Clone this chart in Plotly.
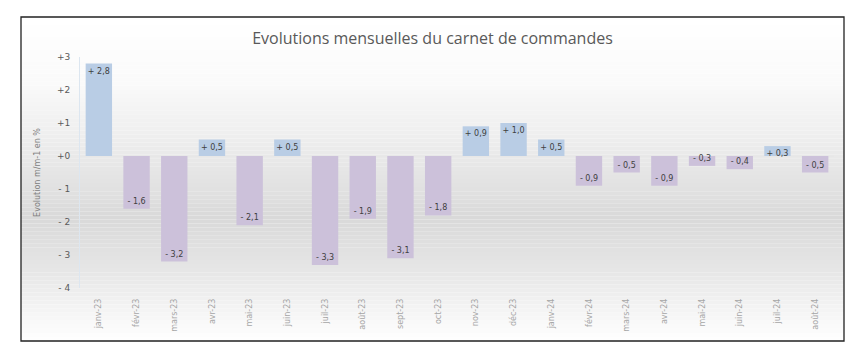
import plotly.graph_objects as go

months = ["janv-23", "févr-23", "mars-23", "avr-23", "mai-23", "juin-23", "juil-23",
          "août-23", "sept-23", "oct-23", "nov-23", "déc-23", "janv-24", "févr-24",
          "mars-24", "avr-24", "mai-24", "juin-24", "juil-24", "août-24"]
values = [2.8, -1.6, -3.2, 0.5, -2.1, 0.5, -3.3, -1.9, -3.1, -1.8,
          0.9, 1.0, 0.5, -0.9, -0.5, -0.9, -0.3, -0.4, 0.3, -0.5]
ytick_vals = [3, 2, 1, 0, -1, -2, -3, -4]
ytick_text = ["+3", "+2", "+1", "+0", "- 1", "- 2", "- 3", "- 4"]

OFF = 8  # page body margin
W, H = 865 - OFF, 358 - OFF
# plot area in page pixels: x 80..834, y 57..288
L, R, T, B = 80 - OFF, 865 - 834, 57 - OFF, 358 - 288
pw, ph = W - L - R, H - T - B


def px2x(px):
    return (px - OFF - L) / pw


def py2y(py):
    return (H - B - (py - OFF)) / ph


def fmt(v):
    s = f"{abs(v):.1f}".replace(".", ",")
    return ("+ " if v >= 0 else "- ") + s


pos_col, neg_col = "#b9cde5", "#ccc1da"
colors = [pos_col if v >= 0 else neg_col for v in values]
labels = [fmt(v) for v in values]

fig = go.Figure(go.Bar(
    x=months, y=values, marker=dict(color=colors, line=dict(width=0)),
    text=labels, textposition="inside", insidetextanchor="end",
    constraintext="none", textangle=0,
    textfont=dict(size=8, color="#404040", family="DejaVu Sans"),
    width=0.7, cliponaxis=False,
))

# background gradient (frame)
fx0, fx1, fy0, fy1 = 21, 844, 17, 341
stops = [(0.0, 255), (0.2, 250), (0.45, 232), (0.62, 217), (0.8, 232), (1.0, 255)]


def gray_at(t):
    for (t0, g0), (t1, g1) in zip(stops, stops[1:]):
        if t0 <= t <= t1:
            return g0 + (g1 - g0) * (t - t0) / (t1 - t0)
    return 255


shapes = []
n = 80
for i in range(n):
    a = fy0 + (fy1 - fy0) * i / n
    b = fy0 + (fy1 - fy0) * (i + 1) / n
    g = int(round(gray_at((i + 0.5) / n)))
    shapes.append(dict(type="rect", xref="paper", yref="paper",
                       x0=px2x(fx0), x1=px2x(fx1), y0=py2y(b), y1=py2y(a),
                       fillcolor=f"rgb({g},{g},{g})", line=dict(width=0), layer="below"))
shapes.append(dict(type="rect", xref="paper", yref="paper",
                   x0=px2x(fx0), x1=px2x(fx1), y0=py2y(fy1), y1=py2y(fy0),
                   fillcolor="rgba(0,0,0,0)", line=dict(width=1.3, color="#222222"), layer="above"))
# zero line
shapes.append(dict(type="line", xref="paper", yref="y", x0=0, x1=1, y0=0, y1=0,
                   line=dict(width=1, color="#e6e6e6"), layer="below"))

fig.update_layout(
    width=W, height=H, margin=dict(l=L, r=R, t=T, b=B),
    paper_bgcolor="white", plot_bgcolor="rgba(0,0,0,0)",
    shapes=shapes, showlegend=False, bargap=0.3,
    title=dict(text="Evolutions mensuelles du carnet de commandes",
               x=(432.5 - OFF) / W, xanchor="center", y=1 - (38 - OFF) / H, yanchor="middle",
               font=dict(family="Open Sans", size=16, color="#595959")),
    font=dict(family="DejaVu Sans"),
)
fig.update_xaxes(tickangle=-90, tickfont=dict(size=8, color="#a6a6a6"),
                 showgrid=False, showline=False, ticks="", ticklabelstandoff=8)
fig.update_yaxes(range=[-4, 3], tickvals=ytick_vals, ticktext=ytick_text,
                 tickfont=dict(size=9, color="#595959"), showgrid=False,
                 zeroline=False, showline=True, linecolor="#dce6f0", linewidth=1,
                 ticks="", ticklabelstandoff=7,
                 title=dict(text="Evolution m/m-1 en %", standoff=15,
                            font=dict(size=8, color="#7f7f7f")))
fig.write_html("out.html")
